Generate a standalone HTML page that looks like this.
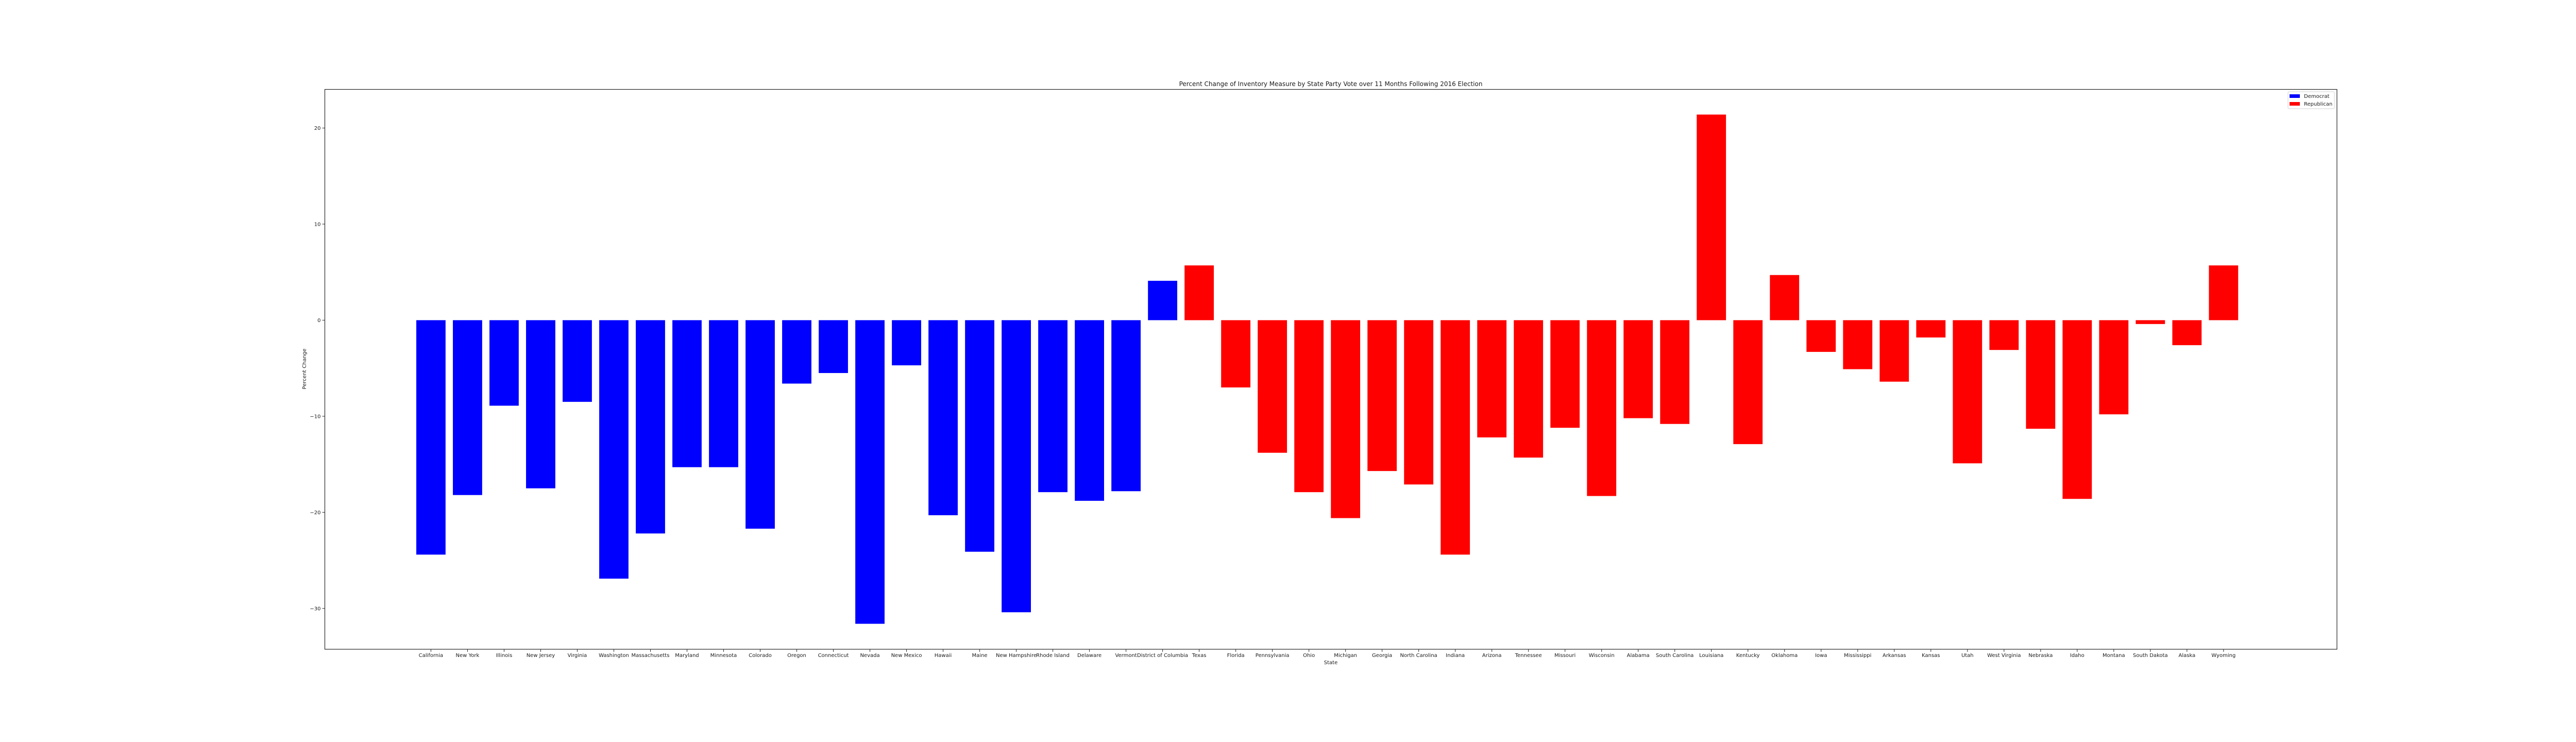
<!DOCTYPE html>
<html><head><meta charset="utf-8"><style>
html,body{margin:0;padding:0;background:#fff;}
svg{display:block;font-family:"DejaVu Sans","Liberation Sans",sans-serif;}
</style></head><body>
<svg id="chart" width="5040" height="1440" viewBox="0 0 5040 1440" xmlns="http://www.w3.org/2000/svg">
<rect x="0" y="0" width="5040" height="1440" fill="#fff"/>
<g id="bars"></g>
<g id="xticks"></g>
<g id="yticks"></g>
<rect x="630.5" y="173.5" width="3905.5" height="1086.5" fill="none" stroke="#262626" stroke-width="1.2"/>
<text x="2583" y="167" font-size="12" text-anchor="middle" fill="#1a1a1a">Percent Change of Inventory Measure by State Party Vote over 11 Months Following 2016 Election</text>
<text x="2583" y="1289" font-size="10" text-anchor="middle" fill="#1a1a1a">State</text>
<text x="0" y="0" font-size="10" text-anchor="middle" fill="#1a1a1a" transform="translate(594,716) rotate(-90)">Percent Change</text>
<g>
<rect x="4441" y="178" width="90" height="33" rx="2" fill="#fff" stroke="#d0d0d0" stroke-width="1"/>
<g>
<rect x="4444" y="183" width="20" height="7" fill="#0000ff"/>
<text x="4472" y="190" font-size="10" fill="#1a1a1a">Democrat</text>
</g>
<g>
<rect x="4444" y="198" width="20" height="7" fill="#ff0000"/>
<text x="4472" y="205" font-size="10" fill="#1a1a1a">Republican</text>
</g>
</g>
</svg>
<script>
const states = ["California","New York","Illinois","New Jersey","Virginia","Washington","Massachusetts","Maryland","Minnesota","Colorado","Oregon","Connecticut","Nevada","New Mexico","Hawaii","Maine","New Hampshire","Rhode Island","Delaware","Vermont","District of Columbia","Texas","Florida","Pennsylvania","Ohio","Michigan","Georgia","North Carolina","Indiana","Arizona","Tennessee","Missouri","Wisconsin","Alabama","South Carolina","Louisiana","Kentucky","Oklahoma","Iowa","Mississippi","Arkansas","Kansas","Utah","West Virginia","Nebraska","Idaho","Montana","South Dakota","Alaska","Wyoming"];
const values = [-24.4,-18.2,-8.9,-17.5,-8.5,-26.9,-22.2,-15.3,-15.3,-21.7,-6.6,-5.5,-31.6,-4.7,-20.3,-24.1,-30.4,-17.9,-18.8,-17.8,4.1,5.7,-7.0,-13.8,-17.9,-20.6,-15.7,-17.1,-24.4,-12.2,-14.3,-11.2,-18.3,-10.2,-10.8,21.4,-12.9,4.7,-3.3,-5.1,-6.4,-1.8,-14.9,-3.1,-11.3,-18.6,-9.8,-0.4,-2.6,5.7];
const parties = ["D","D","D","D","D","D","D","D","D","D","D","D","D","D","D","D","D","D","D","D","D","R","R","R","R","R","R","R","R","R","R","R","R","R","R","R","R","R","R","R","R","R","R","R","R","R","R","R","R","R"];
const yTicks = [-30,-20,-10,0,10,20];
const yTickLabels = ["\u221230","\u221220","\u221210","0","10","20"];

const NS = "http://www.w3.org/2000/svg";
const plotL = 630.5, plotR = 4536, plotT = 173.5, plotB = 1260;
const yMax = 24.02, yMin = -34.25;
const xMin = -2.9, xMax = 52.1;
function xs(i){ return plotL + (i - xMin) / (xMax - xMin) * (plotR - plotL); }
function ys(v){ return plotT + (yMax - v) / (yMax - yMin) * (plotB - plotT); }
const bw = 0.8 * (xs(1) - xs(0));
const colors = {D:"#0000ff", R:"#ff0000"};

const gb = document.getElementById("bars");
const gx = document.getElementById("xticks");
const gy = document.getElementById("yticks");
states.forEach(function(s, i){
  const v = values[i];
  const r = document.createElementNS(NS, "rect");
  const y0 = ys(0), y1 = ys(v);
  r.setAttribute("x", xs(i) - bw/2);
  r.setAttribute("y", Math.min(y0, y1));
  r.setAttribute("width", bw);
  r.setAttribute("height", Math.abs(y1 - y0));
  r.setAttribute("fill", colors[parties[i]]);
  
  
  gb.appendChild(r);

  const t = document.createElementNS(NS, "line");
  t.setAttribute("x1", xs(i)); t.setAttribute("x2", xs(i));
  t.setAttribute("y1", plotB); t.setAttribute("y2", plotB + 5);
  t.setAttribute("stroke", "#262626");
  
  
  gx.appendChild(t);

  const lb = document.createElementNS(NS, "text");
  lb.setAttribute("x", xs(i));
  lb.setAttribute("y", 1275);
  lb.setAttribute("font-size", "10");
  lb.setAttribute("text-anchor", "middle");
  lb.setAttribute("fill", "#1a1a1a");
  lb.textContent = s;
  
  
  gx.appendChild(lb);
});
yTicks.forEach(function(v, k){
  const t = document.createElementNS(NS, "line");
  t.setAttribute("x1", plotL - 5); t.setAttribute("x2", plotL);
  t.setAttribute("y1", ys(v)); t.setAttribute("y2", ys(v));
  t.setAttribute("stroke", "#262626");
  
  
  gy.appendChild(t);
  const lb = document.createElementNS(NS, "text");
  lb.setAttribute("x", plotL - 8);
  lb.setAttribute("y", ys(v) + 3.5);
  lb.setAttribute("font-size", "10");
  lb.setAttribute("text-anchor", "end");
  lb.setAttribute("fill", "#1a1a1a");
  lb.textContent = yTickLabels[k];
  
  
  gy.appendChild(lb);
});
</script>
</body></html>
